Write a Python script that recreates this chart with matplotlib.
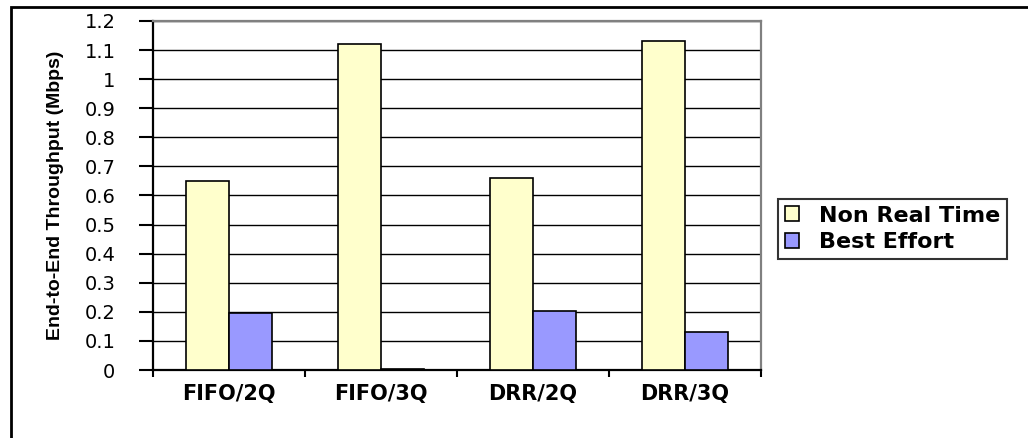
import matplotlib
matplotlib.use("Agg")
import matplotlib.pyplot as plt
import numpy as np
from matplotlib.patches import Rectangle

schedulers = ["FIFO/2Q", "FIFO/3Q", "DRR/2Q", "DRR/3Q"]
non_real_time = [0.65, 1.12, 0.66, 1.13]
best_effort = [0.197, 0.005, 0.203, 0.132]
y_ticks = [0, 0.1, 0.2, 0.3, 0.4, 0.5, 0.6, 0.7, 0.8, 0.9, 1, 1.1, 1.2]
y_tick_labels = ["0", "0.1", "0.2", "0.3", "0.4", "0.5", "0.6", "0.7", "0.8", "0.9", "1", "1.1", "1.2"]

fig = plt.figure(figsize=(10.28, 4.38), dpi=100)
ax = fig.add_axes([153 / 1028, 1 - 370 / 438, 608 / 1028, 349 / 438])

x = np.arange(len(schedulers))
w = 0.28
ax.bar(x - w / 2, non_real_time, w, color="#FFFFCC", edgecolor="black", linewidth=1.2,
       label="Non Real Time", zorder=3)
ax.bar(x + w / 2, best_effort, w, color="#9999FF", edgecolor="black", linewidth=1.2,
       label="Best Effort", zorder=3)

ax.set_xlim(-0.5, len(schedulers) - 0.5)
ax.set_ylim(0, 1.2)
ax.set_yticks(y_ticks)
ax.set_yticklabels(y_tick_labels, fontsize=14, family="DejaVu Sans")
ax.yaxis.grid(True, color="black", linewidth=1.0, zorder=0)
ax.set_axisbelow(True)

# group boundaries as ticks, names in between
ax.set_xticks(np.arange(len(schedulers) + 1) - 0.5)
ax.set_xticklabels([])
ax.set_xticks(x, minor=True)
ax.set_xticklabels(schedulers, minor=True, fontsize=15, fontweight="bold", family="DejaVu Sans")
ax.tick_params(axis="x", which="major", direction="out", length=5, width=1.5)
ax.tick_params(axis="x", which="minor", length=0, pad=10)
ax.tick_params(axis="y", direction="out", length=10, width=1.5, pad=17)

for side in ["left", "bottom"]:
    ax.spines[side].set_color("black")
    ax.spines[side].set_linewidth(1.6)
for side in ["top", "right"]:
    ax.spines[side].set_color("#808080")
    ax.spines[side].set_linewidth(1.6)

ax.set_ylabel("End-to-End Throughput (Mbps)", fontsize=14, fontweight="bold",
              family="Liberation Sans", labelpad=15)

leg = ax.legend(loc="upper left", bbox_to_anchor=(778 / 1028, 1 - 199 / 438),
                bbox_transform=fig.transFigure, frameon=True, fancybox=False,
                prop={"family": "DejaVu Sans", "weight": "bold", "size": 16},
                handlelength=0.65, handleheight=0.65, handletextpad=0.9,
                borderpad=0.3, labelspacing=0.3, borderaxespad=0)
leg.get_frame().set_edgecolor("black")
leg.get_frame().set_linewidth(1.5)

# outer chart border (runs off the right and bottom edges)
fig.patches.append(Rectangle((11 / 1028, -1), 2, 2 - 7 / 438, transform=fig.transFigure,
                             fill=False, edgecolor="black", linewidth=2))

fig.savefig("out.png", dpi=100)
